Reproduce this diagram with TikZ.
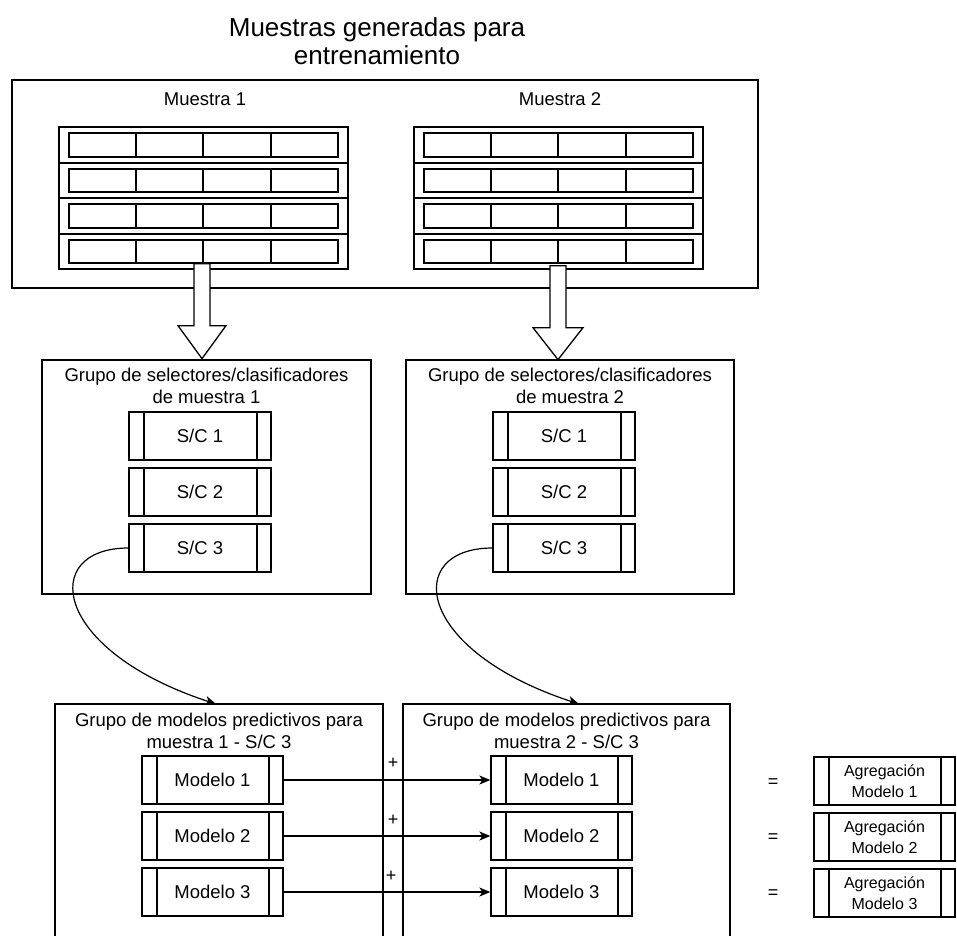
\documentclass[tikz,border=0pt]{standalone}
\usepackage{fontspec}
\setmainfont{Liberation Sans}
\usetikzlibrary{arrows.meta,calc}

\tikzset{
  frame/.style={draw, line width=1.3pt, inner sep=0pt},
  procbox/.style={draw, line width=1.3pt, fill=white, minimum width=141pt,
    minimum height=48pt, inner sep=0pt, align=center,
    font=\fontsize{18.5}{21}\selectfont,
    path picture={
      \draw[line width=1.3pt]
        ([xshift=15pt]path picture bounding box.north west) --
        ([xshift=15pt]path picture bounding box.south west);
      \draw[line width=1.3pt]
        ([xshift=-14pt]path picture bounding box.north east) --
        ([xshift=-14pt]path picture bounding box.south east);
    }},
  aggbox/.style={procbox, font=\fontsize{16}{21}\selectfont},
  lbl/.style={font=\fontsize{18.5}{22}\selectfont, align=center, inner sep=0pt},
  sign/.style={font=\fontsize{18}{20}\selectfont, inner sep=0pt},
  link/.style={-{Stealth[length=11pt,width=9pt,inset=3pt]}, line width=1.2pt},
  bigarrow/.style={draw, fill=white, line width=1.3pt, line join=miter},
}

\begin{document}
\begin{tikzpicture}[x=1pt, y=-1pt, line width=1.3pt]
\useasboundingbox (0,0) rectangle (957,935);

% title
\node[font=\fontsize{26}{28}\selectfont, align=center, inner sep=0pt] (title)
  at (377,41) {Muestras generadas para\\entrenamiento};

% training samples container
\node[frame, minimum width=746pt, minimum height=208pt] (samples) at (385,184) {};
\node[lbl] (m1) at (205,99) {Muestra 1};
\node[lbl] (m2) at (560,99) {Muestra 2};

% the two sample tables
\node[frame, minimum width=289pt, minimum height=142pt] (tab1) at (203.5,198) {};
\node[frame, minimum width=289pt, minimum height=142pt] (tab2) at (558.5,198) {};
\foreach \ox in {0,355} {
  \foreach \ry in {163,198,234}
    \draw (59+\ox,\ry) -- (348+\ox,\ry);
  \foreach \rt/\rb in {127/163,163/198,198/234,234/269} {
    \draw (69+\ox,\rt+6) rectangle (338+\ox,\rb-6);
    \foreach \cx in {136,203,271}
      \draw (\cx+\ox,\rt+6) -- (\cx+\ox,\rb-6);
  }
}

% block arrows down to the selector groups
\draw[bigarrow] ([xshift=-9.5pt,yshift=6pt]tab1.south) -- ++(0,62) -- ++(-16,0)
  -- ++(24,33) -- ++(24,-33) -- ++(-16,0) -- ++(0,-62) -- cycle;
\draw[bigarrow] ([xshift=-8.5pt,yshift=4pt]tab2.south) -- ++(0,62) -- ++(-17,0)
  -- ++(25,32) -- ++(25,-32) -- ++(-17,0) -- ++(0,-62) -- cycle;

% selector / classifier groups
\node[frame, minimum width=329pt, minimum height=234pt] (grp1) at (206.5,477) {};
\node[frame, minimum width=328pt, minimum height=234pt] (grp2) at (570,477) {};
\node[lbl] (g1lbl) at (206.5,386) {Grupo de selectores/clasificadores\\de muestra 1};
\node[lbl] (g2lbl) at (570,386) {Grupo de selectores/clasificadores\\de muestra 2};

\foreach \i/\y in {1/436,2/492,3/548} {
  \node[procbox, minimum width=142pt] (sca\i) at (200,\y) {S/C \i};
  \node[procbox, minimum width=142pt] (scb\i) at (564,\y) {S/C \i};
}

% predictive model groups (cut off at the bottom)
\draw (55,940) -- (55,704) -- (383,704) -- (383,940);
\draw (403,940) -- (403,704) -- (730,704) -- (730,940);
\coordinate (pm1top) at (216,704);
\coordinate (pm2top) at (579,704);
\node[lbl] (p1lbl) at (219,731) {Grupo de modelos predictivos para\\muestra 1 - S/C 3};
\node[lbl] (p2lbl) at (566.5,731) {Grupo de modelos predictivos para\\muestra 2 - S/C 3};

% curved links from S/C 3 to the model groups
\draw[link] (sca3.west) .. controls +(-89,0) and +(-165,-54) .. (pm1top);
\draw[link] (scb3.west) .. controls +(-89,0) and +(-165,-54) .. (pm2top);

% models and aggregations
\foreach \i/\y in {1/780,2/836,3/892} {
  \node[procbox] (ma\i) at (212.5,\y) {Modelo \i};
  \node[procbox] (mb\i) at (561.5,\y) {Modelo \i};
  \node[aggbox] (ag\i) at (884.5,\y+1) {Agregación\\Modelo \i};
  \draw[link] (ma\i.east) -- (mb\i.west);
}
\node[sign] (p1) at (393,763) {+};
\node[sign] (p2) at (393,820) {+};
\node[sign] (p3) at (391,876) {+};
\node[sign] (e1) at (773,783) {=};
\node[sign] (e2) at (773,838) {=};
\node[sign] (e3) at (773,894) {=};
\end{tikzpicture}
\end{document}
